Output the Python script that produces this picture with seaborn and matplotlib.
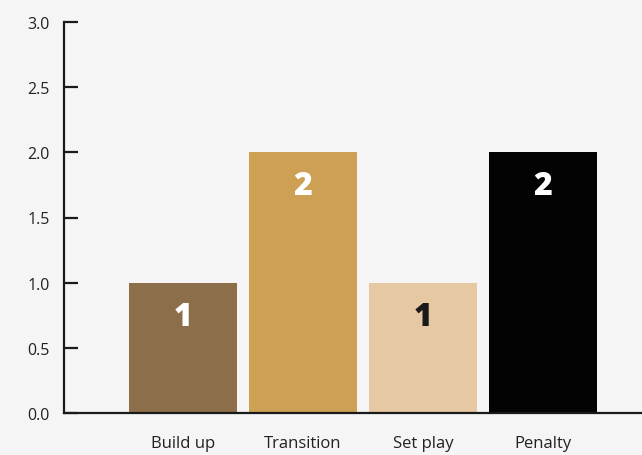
import matplotlib
matplotlib.use("Agg")
import matplotlib.pyplot as plt
import seaborn as sns
import pandas as pd

categories = ["Build up", "Transition", "Set play", "Penalty"]
values = [1, 2, 1, 2]
colors = ["#8d6e4a", "#cea054", "#e6c8a3", "#030303"]
label_colors = ["white", "white", "#1a1a1a", "white"]

sns.set_theme(style="white")
plt.rcParams['font.family'] = ['Open Sans', 'DejaVu Sans']

df = pd.DataFrame({"cat": categories, "val": values})

fig = plt.figure(figsize=(6.42, 4.56), dpi=100)
fig.patch.set_facecolor("#f5f5f5")
ax = fig.add_axes([64/642, 42/456, 1 - 64/642, (414-23)/456])
ax.set_facecolor("#f5f5f5")

sns.barplot(data=df, x="cat", y="val", hue="cat", palette=colors, legend=False,
            width=0.9, ax=ax, saturation=1, edgecolor="none")

ax.set_ylim(0, 3)
ax.set_xlim(-0.992, 3.825)
ax.set_yticks([0, 0.5, 1.0, 1.5, 2.0, 2.5, 3.0])
ax.set_yticklabels(["0.0", "0.5", "1.0", "1.5", "2.0", "2.5", "3.0"])
ax.set_xlabel("")
ax.set_ylabel("")

for s in ["top", "right"]:
    ax.spines[s].set_visible(False)
for s in ["left", "bottom"]:
    ax.spines[s].set_color("#1a1a1a")
    ax.spines[s].set_linewidth(1.6)

ax.tick_params(axis="y", direction="in", length=10, width=1.6, color="#1a1a1a",
               labelsize=11.5, labelcolor="#222222", pad=10, left=True)
ax.tick_params(axis="x", length=0, labelsize=12, labelcolor="#222222", pad=16)

for i, (v, c) in enumerate(zip(values, label_colors)):
    ax.text(i, v - 0.26, str(v), ha="center", va="center", fontsize=23,
            fontweight="heavy", color=c)

fig.savefig("out.png", dpi=100, facecolor=fig.get_facecolor())
